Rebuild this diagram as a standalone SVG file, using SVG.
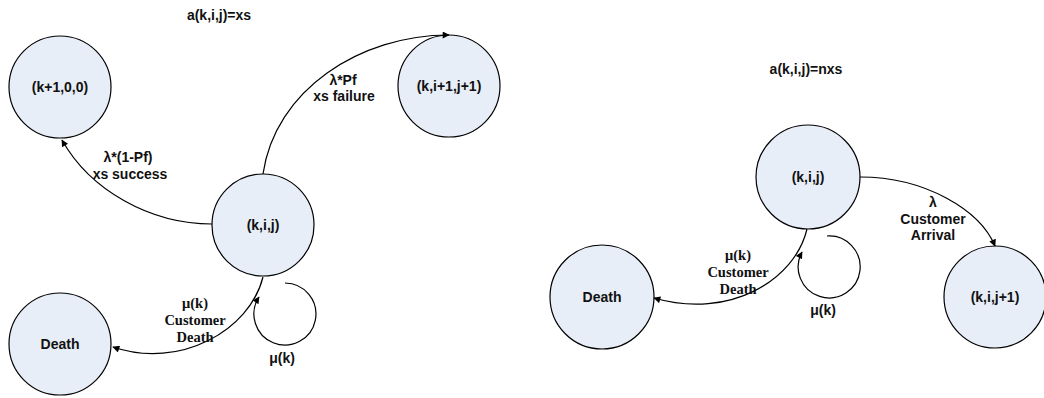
<svg xmlns="http://www.w3.org/2000/svg" width="1044" height="398" viewBox="0 0 1044 398">
  <defs>
    <marker id="arrow" viewBox="0 0 10 10" refX="9" refY="5" markerWidth="8" markerHeight="7" markerUnits="userSpaceOnUse" orient="auto">
      <path d="M0,0 L10,5 L0,10 Z" fill="#000"/>
    </marker>
    <style>
      .state { fill: #E8EEF8; stroke: #000; stroke-width: 1.2; }
      .name { font-family: "Liberation Sans", Arial, sans-serif; font-size: 14px; font-weight: bold; text-anchor: middle; fill: #111; }
      .rate { font-family: "Liberation Sans", Arial, sans-serif; font-size: 14px; font-weight: bold; text-anchor: middle; fill: #111; }
      .rate-serif { font-family: "Liberation Serif", "Times New Roman", serif; font-size: 14.5px; font-weight: bold; text-anchor: middle; fill: #111; }
      .edge { fill: none; stroke: #000; stroke-width: 1.2; }
    </style>
  </defs>

  <rect width="1044" height="398" fill="#fff"/>

  <!-- headings -->
  <text class="name" x="219" y="20">a(k,i,j)=xs</text>
  <text class="name" x="806" y="74">a(k,i,j)=nxs</text>

  <!-- left chain: xs action -->
  <g id="node-k1-0-0">
    <circle class="state" cx="60" cy="87" r="51"/>
    <text class="name" x="60" y="92">(k+1,0,0)</text>
  </g>
  <g id="node-k-i1-j1">
    <circle class="state" cx="449" cy="86" r="51"/>
    <text class="name" x="449" y="91">(k,i+1,j+1)</text>
  </g>
  <g id="node-kij-xs">
    <circle class="state" cx="263" cy="225" r="51"/>
    <text class="name" x="263" y="230">(k,i,j)</text>
  </g>
  <g id="node-death-xs">
    <circle class="state" cx="60" cy="344" r="51"/>
    <text class="name" x="60" y="349">Death</text>
  </g>

  <!-- right chain: nxs action -->
  <g id="node-kij-nxs">
    <circle class="state" cx="808" cy="177" r="52"/>
    <text class="name" x="808" y="182">(k,i,j)</text>
  </g>
  <g id="node-death-nxs">
    <circle class="state" cx="602" cy="297" r="52"/>
    <text class="name" x="602" y="302">Death</text>
  </g>
  <g id="node-k-i-j1">
    <circle class="state" cx="995" cy="297" r="51"/>
    <text class="name" x="995" y="302">(k,i,j+1)</text>
  </g>

  <g id="connectors">
    <!-- xs success -->
    <path class="edge" d="M212,224 C150,224 90,190 62,140" marker-end="url(#arrow)"/>
    <!-- xs failure -->
    <path class="edge" d="M263,174 C275,90 360,35 449,35" marker-end="url(#arrow)"/>
    <!-- customer death, xs -->
    <path class="edge" d="M263,277 C250,330 180,370 113,347" marker-end="url(#arrow)"/>
    <!-- self loop, xs -->
    <path class="edge" d="M285,283 A31,31 0 1 1 259,297" marker-end="url(#arrow)"/>

    <!-- customer arrival -->
    <path class="edge" d="M860,177 C925,177 980,210 995,246" marker-end="url(#arrow)"/>
    <!-- customer death, nxs -->
    <path class="edge" d="M807,229 C795,280 730,320 654,298" marker-end="url(#arrow)"/>
    <!-- self loop, nxs -->
    <path class="edge" d="M827,236 A31,31 0 1 1 802,252" marker-end="url(#arrow)"/>
  </g>

  <g id="edge-labels">
    <text class="rate" x="343" y="85">λ*Pf</text>
    <text class="rate" x="344" y="101">xs failure</text>
    <text class="rate" x="128" y="162">λ*(1-Pf)</text>
    <text class="rate" x="130" y="179">xs success</text>
    <text class="rate-serif" x="195" y="308">μ(k)</text>
    <text class="rate-serif" x="195" y="325">Customer</text>
    <text class="rate-serif" x="195" y="342">Death</text>
    <text class="rate" x="282" y="363">μ(k)</text>

    <text class="rate" x="933" y="207">λ</text>
    <text class="rate" x="933" y="224">Customer</text>
    <text class="rate" x="933" y="240">Arrival</text>
    <text class="rate-serif" x="738" y="260">μ(k)</text>
    <text class="rate-serif" x="738" y="277">Customer</text>
    <text class="rate-serif" x="738" y="294">Death</text>
    <text class="rate" x="823" y="315">μ(k)</text>
  </g>
</svg>
